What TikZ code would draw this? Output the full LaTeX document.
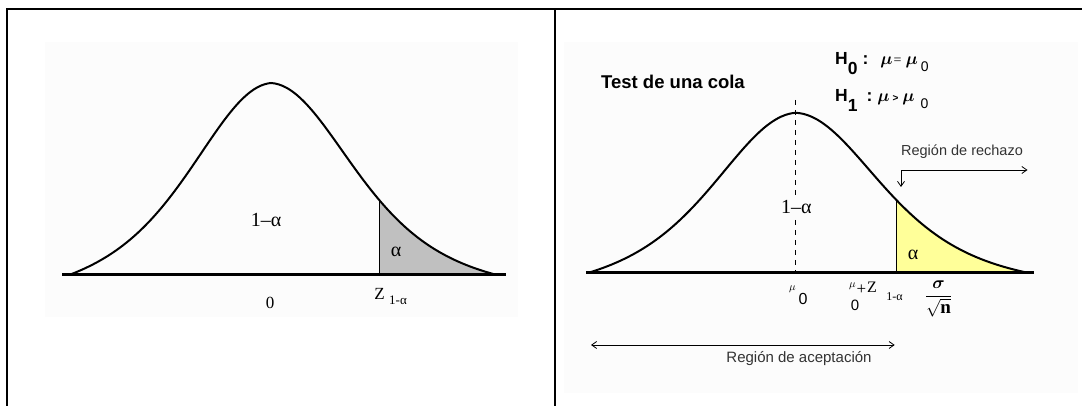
\documentclass[tikz,border=0pt]{standalone}
\usepackage{amsmath}
\usepackage{fontspec}
\setmainfont{Liberation Serif}
\setsansfont{Liberation Sans}
\usetikzlibrary{arrows.meta}

\definecolor{tailgray}{HTML}{C0C0C0}
\definecolor{tailyellow}{HTML}{FFFF99}
\definecolor{panelbg}{HTML}{FCFCFC}
\definecolor{textgray}{HTML}{333333}

\newcommand{\fs}[1]{\fontsize{#1}{#1}\selectfont}
% outline of the bell, measured from the foot of its peak
\newcommand{\bellcurve}{plot[domain=-202:0, samples=60, smooth] (\x, {192*(tfive(\x/82) + tfive(202/82)*\x/202)})
  -- plot[domain=0:226, samples=60, smooth] (\x, {192*(tfive(\x/84) - tfive(226/84)*\x/226)})}

\tikzset{
  declare function={tfive(\z)=1/((1+\z*\z/5)^3);},
  axisline/.style={line width=3pt},
  bellline/.style={line width=2pt, line join=round},
  cutline/.style={line width=1pt},
  lbl/.style={inner sep=0pt},
  arr2/.style={line width=0.8pt, {Straight Barb[length=5pt,width=7pt]}-{Straight Barb[length=5pt,width=7pt]}},
}

\begin{document}
\begin{tikzpicture}[x=1pt,y=1pt]
\useasboundingbox (0,0) rectangle (1082,406);

% panel backgrounds and frame
\fill[panelbg] (45,89) rectangle (517.6,364);
\fill[panelbg] (564,13) rectangle (1078,364);
\draw[line width=2pt] (7,0) -- (7,397) -- (1082,397) (554.7,397) -- (554.7,0);

% left panel
\begin{scope}[shift={(271,131)}]
  \begin{scope}
    \clip \bellcurve -- cycle;
    \fill[tailgray] (108.6,0) rectangle (240,200);
    \draw[cutline] (108.6,0) -- (108.6,200);
  \end{scope}
  \draw[bellline] \bellcurve;
\end{scope}
\draw[axisline] (62,131) -- (505.5,131);

\node[lbl, font=\fs{20}] (lconf) at (266,186) {1\textendash α};
\node[lbl, font=\fs{20}] (lalpha) at (396,154) {α};
\node[lbl, font=\fs{17}] (lzero) at (270,103) {0};
\node[lbl, font=\fs{17}] (lz) at (379.5,112) {Z};
\node[lbl, font=\fs{13}] (lzsub) at (398,106) {1-α};

% right panel
\begin{scope}[shift={(795.7,133.3)}, xscale=1.025, yscale=0.833]
  \begin{scope}
    \clip \bellcurve -- cycle;
    \fill[tailyellow] (98.2,0) rectangle (240,200);
    \draw[cutline] (98.2,0) -- (98.2,200);
  \end{scope}
  \draw[bellline] \bellcurve;
\end{scope}
\draw[axisline] (586,133.3) -- (1034,133.3);
\draw[line width=0.8pt, dash pattern=on 5pt off 5pt] (795.7,306) -- (795.7,133.3);

\node[lbl, font=\fs{20}, fill=panelbg, inner ysep=2pt] (rconf) at (796.4,199) {1\textendash α};
\node[lbl, font=\fs{20}] (ralpha) at (913,151) {α};

\node[lbl, font=\sffamily\bfseries\fs{18.5}, anchor=west] (title) at (601,324) {Test de una cola};
\node[lbl, anchor=base west] (hnull) at (835,341)
  {{\sffamily\bfseries\fs{17.5}H\raisebox{-10pt}{0}\hspace{5pt}:}\hspace{12pt}{\fs{18}$\boldsymbol{\mu}$}\hspace{1pt}{\fs{14}=}\hspace{4pt}{\fs{18}$\boldsymbol{\mu}$}\hspace{3pt}\raisebox{-7pt}{\sffamily\fs{14}0}};
\node[lbl, anchor=base west] (halt) at (835,304)
  {{\sffamily\bfseries\fs{17.5}H\raisebox{-10pt}{1}\hspace{9pt}:}\hspace{5pt}{\fs{18}$\boldsymbol{\mu}$}\hspace{3pt}{\sffamily\bfseries\fs{10}>}\hspace{4pt}{\fs{18}$\boldsymbol{\mu}$}\hspace{6pt}\raisebox{-7pt}{\sffamily\fs{14}0}};

\node[lbl, anchor=base, font=\sffamily\fs{14.5}, text=textgray] (rejlabel) at (962,250) {Región de rechazo};
\coordinate (rejfoot) at (901,219);
\coordinate (rejend) at (1027.5,236);
\draw[arr2] (rejfoot) |- (rejend);

\coordinate (accleft) at (591,61);
\coordinate (accright) at (894.7,61);
\draw[arr2] (accleft) -- (accright);
\node[lbl, anchor=base, font=\sffamily\fs{15}, text=textgray] (acclabel) at (799,43) {Región de aceptación};

\node[lbl, font=\fs{11}] (mupeak) at (792.5,117) {$\mu$};
\node[lbl, font=\sffamily\fs{16}] (zeropeak) at (803,107.5) {0};

\node[lbl, font=\fs{11}] (mucrit) at (852.5,119.5) {$\mu$};
\node[lbl, font=\sffamily\fs{15}] (zerocrit) at (855,101) {0};
\node[lbl, font=\fs{17}] (pluscrit) at (861.5,116.5) {+};
\node[lbl, font=\fs{16}] (zcrit) at (872,118.5) {Z};
\node[lbl, font=\fs{12}] (subcrit) at (894.5,109.5) {1-α};
\node[lbl, font=\fs{19}] (sigfrac) at (938.5,107) {$\dfrac{\boldsymbol{\sigma}}{\sqrt{\mathbf{n}}}$};

\end{tikzpicture}
\end{document}
